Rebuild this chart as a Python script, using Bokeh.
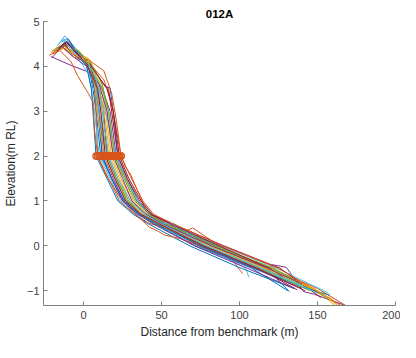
import numpy as np
from bokeh.plotting import figure
from bokeh.models import Range1d, FixedTicker
from bokeh.embed import file_html
from bokeh.resources import INLINE

# ---- beach profile surveys: distance from benchmark (m) / elevation (m RL) ----
p01_x = [-18, -12, -4, 3, 6, 8, 11, 18, 25, 35, 45, 72, 108, 131]
p01_y = [4.3, 4.55, 4.3, 4.02, 3.5, 3.0, 2.0, 1.5, 1.0, 0.7, 0.5, 0.0, -0.5, -1.0]
p02_x = [-20, -15, -8, 2, 5, 7, 8, 9, 16, 23, 33, 42, 64, 70, 90, 100, 102]
p02_y = [4.35, 4.45, 4.3, 4.12, 4.08, 3.5, 3.0, 2.0, 1.5, 1.0, 0.7, 0.5, 0.3, 0.4, -0.07, -0.53, -0.62]
p03_x = [-21, -14, -4, 4, 12, 15, 19, 26, 32, 40, 50, 80, 118, 150, 161]
p03_y = [4.3, 4.5, 4.35, 4.12, 3.6, 3.0, 2.0, 1.5, 1.0, 0.7, 0.5, 0.0, -0.5, -1.0, -1.33]
p04_x = [-21, -8, 5, 12, 17, 21, 27, 34, 42, 52, 84, 113, 118, 121, 130, 141, 148, 168]
p04_y = [4.22, 4.02, 3.85, 3.5, 3.0, 2.0, 1.5, 1.0, 0.7, 0.5, 0.0, -0.5, -0.56, -0.42, -0.48, -1.02, -1.08, -1.33]
p05_x = [-17, -10, -3, 5, 9, 12, 16, 22, 29, 38, 48, 78, 115, 145, 155]
p05_y = [4.35, 4.5, 4.3, 4.05, 3.5, 3.0, 2.0, 1.5, 1.0, 0.7, 0.5, 0.0, -0.5, -0.95, -1.12]
p06_x = [-16, -12, -5, 2, 5, 7, 10, 17, 24, 34, 46, 58, 62, 76, 104, 106]
p06_y = [4.5, 4.68, 4.4, 4.0, 3.5, 3.0, 2.0, 1.5, 1.0, 0.7, 0.52, 0.49, 0.4, 0.0, -0.5, -0.7]
p07_x = [-19, -12, -6, 3, 10, 13, 15, 21, 28, 37, 47, 76, 112, 137]
p07_y = [4.3, 4.52, 4.35, 4.05, 3.5, 3.0, 2.0, 1.5, 1.0, 0.7, 0.5, 0.0, -0.5, -0.98]
p08_x = [-14, -10, -2, 5, 14, 17, 19, 22, 28, 35, 42, 53, 86, 117, 132]
p08_y = [4.55, 4.62, 4.2, 4.0, 3.55, 3.52, 3.0, 2.0, 1.5, 1.0, 0.7, 0.5, 0.0, -0.5, -1.02]
p09_x = [-20, -13, -6, 3, 13, 18, 21, 24, 27, 30, 35, 40, 50, 82, 120, 150, 168]
p09_y = [4.3, 4.4, 4.2, 4.1, 3.7, 3.2, 2.6, 2.0, 1.75, 1.6, 1.2, 0.8, 0.55, 0.0, -0.5, -0.95, -1.33]
p10_x = [-18, -11, -3, 4, 11, 14, 18, 24, 31, 39, 49, 81, 118, 148, 163]
p10_y = [4.4, 4.4, 4.3, 4.15, 3.5, 3.0, 2.0, 1.5, 1.0, 0.7, 0.5, 0.0, -0.5, -0.95, -1.33]
p11_x = [-13, -10, -4, 3, 7, 10, 13, 19, 26, 36, 47, 74, 109, 140]
p11_y = [4.5, 4.55, 4.3, 4.0, 3.5, 3.0, 2.0, 1.5, 1.0, 0.7, 0.5, 0.0, -0.5, -0.95]
p12_x = [-19, -12, -4, 3, 11, 16, 20, 26, 33, 41, 51, 83, 121, 150]
p12_y = [4.35, 4.45, 4.25, 4.05, 3.6, 3.0, 2.0, 1.5, 1.0, 0.7, 0.5, 0.0, -0.5, -1.05]
p13_x = [-17, -13, -7, 0, 9, 14, 21, 27, 35, 43, 54, 88, 124, 157]
p13_y = [4.45, 4.62, 4.35, 4.0, 3.5, 3.0, 2.0, 1.5, 1.0, 0.7, 0.5, 0.0, -0.5, -1.05]
p14_x = [-12, -8, 0, 6, 15, 19, 23, 29, 37, 44, 56, 90, 126, 152]
p14_y = [4.5, 4.3, 4.1, 3.95, 3.5, 3.0, 2.0, 1.5, 1.0, 0.7, 0.5, 0.0, -0.5, -1.15]
p15_x = [-10, -5, 2, 5, 6, 8, 15, 22, 32, 41, 68, 101, 135]
p15_y = [4.5, 4.3, 4.0, 3.5, 3.0, 2.0, 1.5, 1.0, 0.7, 0.5, 0.0, -0.5, -0.95]
p16_x = [-22, -15, -8, -4, 3, 6, 7, 9, 14, 22, 32, 42, 48, 52, 62, 90, 120, 150]
p16_y = [4.25, 4.35, 4.1, 3.8, 3.4, 3.2, 2.6, 2.0, 1.6, 1.15, 0.75, 0.42, 0.32, 0.24, 0.16, -0.2, -0.62, -1.05]
p17_x = [-3, 2, 6, 10, 13, 17, 23, 30, 39, 48, 79, 116, 145, 160]
p17_y = [4.35, 4.1, 3.95, 3.5, 3.0, 2.0, 1.5, 1.0, 0.7, 0.5, 0.0, -0.5, -0.9, -1.2]
p18_x = [-13, -9, -2, 4, 8, 10, 12, 18, 25, 35, 44, 71, 105, 135]
p18_y = [4.5, 4.55, 4.2, 3.95, 3.5, 3.0, 2.0, 1.5, 1.0, 0.7, 0.5, 0.0, -0.5, -0.95]
p19_x = [-18, -11, -2, 5, 12, 16, 20, 27, 34, 42, 52, 85, 122, 158]
p19_y = [4.4, 4.5, 4.25, 4.05, 3.6, 3.0, 2.0, 1.5, 1.0, 0.7, 0.5, 0.0, -0.5, -1.2]
p20_x = [-15, -11, -4, 3, 8, 10, 14, 20, 27, 37, 50, 57, 62, 78, 110, 145]
p20_y = [4.55, 4.6, 4.3, 4.0, 3.5, 3.0, 2.0, 1.5, 1.0, 0.7, 0.5, 0.49, 0.4, 0.0, -0.5, -0.98]
p21_x = [-14, -10, -3, 4, 13, 16, 18, 22, 28, 36, 43, 55, 87, 119, 128]
p21_y = [4.45, 4.52, 4.25, 4.05, 3.6, 3.5, 3.0, 2.0, 1.5, 1.0, 0.7, 0.5, 0.0, -0.5, -0.7]
p22_x = [-16, -11, -3, 4, 7, 9, 12, 18, 26, 36, 46, 75, 110, 140, 158]
p22_y = [4.4, 4.55, 4.3, 4.05, 3.5, 3.0, 2.0, 1.5, 1.0, 0.7, 0.5, 0.0, -0.5, -0.92, -1.1]
p23_x = [-20, -12, -4, 3, 13, 18, 21, 24, 30, 38, 45, 57, 89, 125, 165]
p23_y = [4.3, 4.45, 4.2, 4.15, 3.9, 3.4, 2.8, 2.0, 1.55, 1.0, 0.7, 0.5, 0.0, -0.5, -1.33]
p24_x = [-19, -13, -5, 3, 7, 9, 13, 20, 28, 38, 49, 80, 117, 150, 162]
p24_y = [4.3, 4.4, 4.25, 4.1, 3.6, 3.0, 2.0, 1.5, 1.0, 0.7, 0.5, 0.0, -0.5, -1.0, -1.3]
p25_x = [-20, -14, -6, 2, 10, 15, 19, 25, 31, 40, 50, 82, 118, 140]
p25_y = [4.2, 4.45, 4.2, 4.0, 3.6, 3.0, 2.0, 1.5, 1.0, 0.7, 0.5, 0.0, -0.5, -0.85]
p26_x = [-8, -3, 3, 8, 11, 15, 21, 28, 37, 47, 77, 113, 145]
p26_y = [4.4, 4.35, 4.05, 3.6, 3.0, 2.0, 1.5, 1.0, 0.7, 0.5, 0.0, -0.5, -1.0]
p27_x = [-12, -8, 0, 6, 10, 12, 16, 22, 30, 39, 49, 79, 114, 150]
p27_y = [4.55, 4.4, 4.1, 3.9, 3.5, 3.0, 2.0, 1.5, 1.0, 0.7, 0.5, 0.0, -0.5, -1.05]
p28_x = [-16, -11, -5, 2, 9, 11, 14, 20, 27, 37, 48, 77, 111, 142]
p28_y = [4.4, 4.55, 4.3, 4.05, 3.5, 3.0, 2.0, 1.5, 1.0, 0.7, 0.5, 0.0, -0.5, -1.0]

contour_level = 2.0
x_ticks = [0, 50, 100, 150, 200]
y_ticks = [-1, 0, 1, 2, 3, 4, 5]

profiles = [
    (p01_x, p01_y), (p02_x, p02_y), (p03_x, p03_y), (p04_x, p04_y),
    (p05_x, p05_y), (p06_x, p06_y), (p07_x, p07_y), (p08_x, p08_y),
    (p09_x, p09_y), (p10_x, p10_y), (p11_x, p11_y), (p12_x, p12_y),
    (p13_x, p13_y), (p14_x, p14_y), (p15_x, p15_y), (p16_x, p16_y),
    (p17_x, p17_y), (p18_x, p18_y), (p19_x, p19_y), (p20_x, p20_y),
    (p21_x, p21_y), (p22_x, p22_y), (p23_x, p23_y), (p24_x, p24_y),
    (p25_x, p25_y), (p26_x, p26_y), (p27_x, p27_y), (p28_x, p28_y),
]
colors = ["#0072BD", "#D95319", "#EDB120", "#7E2F8E", "#77AC30", "#4DBEEE", "#A2142F"]

FONT = "Liberation Sans"

p = figure(width=400, height=342, x_range=Range1d(-25.7, 200), y_range=Range1d(-1.33, 5),
           output_backend="svg", toolbar_location=None,
           min_border_left=35, min_border_right=5, min_border_top=21, min_border_bottom=37)

p.title.text = "012A"
p.title.align = "center"
p.title.text_font = FONT
p.title.text_font_size = "11.5px"
p.title.text_font_style = "bold"
p.title.text_color = "#000000"
p.title.standoff = 4
p.title.offset = 0

p.outline_line_color = None
p.xgrid.visible = False
p.ygrid.visible = False

cross_x = []
for i, (xs, ys) in enumerate(profiles):
    p.line(xs, ys, line_color=colors[i % len(colors)], line_width=1.0)
    for k in range(len(ys) - 1):
        if ys[k] >= contour_level >= ys[k + 1] and ys[k] != ys[k + 1]:
            t = (ys[k] - contour_level) / (ys[k] - ys[k + 1])
            cross_x.append(xs[k] + t * (xs[k + 1] - xs[k]))
            break

p.scatter(cross_x, [contour_level] * len(cross_x), marker="circle", size=6.5,
          fill_color=None, line_color="#D95319", line_width=1.2)

for ax in (p.xaxis[0], p.yaxis[0]):
    ax.axis_line_color = "#808080"
    ax.major_tick_line_color = "#808080"
    ax.major_tick_in = 4
    ax.major_tick_out = 0
    ax.minor_tick_line_color = None
    ax.major_label_text_font = FONT
    ax.major_label_text_font_size = "11px"
    ax.major_label_text_color = "#404040"
    ax.axis_label_text_font = FONT
    ax.axis_label_text_font_size = "12px"
    ax.axis_label_text_font_style = "normal"
    ax.axis_label_text_color = "#262626"

p.xaxis.ticker = FixedTicker(ticks=x_ticks)
p.yaxis.ticker = FixedTicker(ticks=y_ticks)
p.xaxis.axis_label = "Distance from benchmark (m)"
p.yaxis.axis_label = "Elevation(m RL)"
p.xaxis.major_label_standoff = 5
p.yaxis.major_label_standoff = 4
p.xaxis.axis_label_standoff = 3
p.yaxis.axis_label_standoff = 6

open("out.html", "w").write(file_html(p, INLINE))
